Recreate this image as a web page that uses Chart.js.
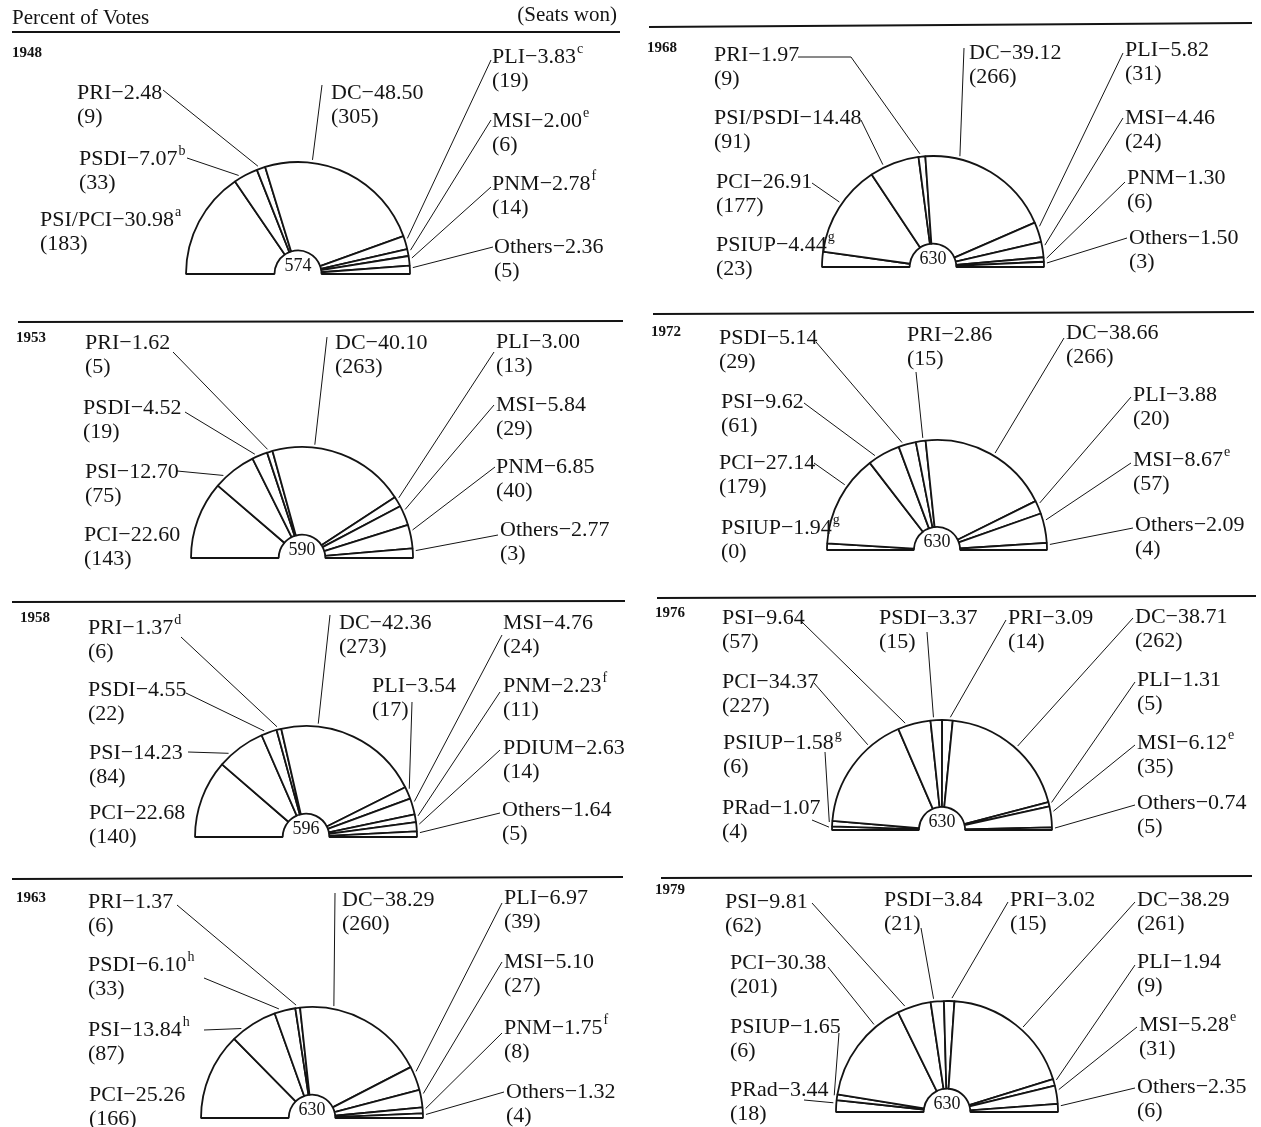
<!DOCTYPE html>
<html><head><meta charset="utf-8">
<script src="https://cdn.jsdelivr.net/npm/chart.js@4"></script>
<style>
html,body{margin:0;padding:0;background:#fff;}
#wrap{position:relative;width:1261px;height:1127px;overflow:hidden;background:#fff;}
#wrap canvas{position:absolute;left:0;top:0;}
</style></head><body><div id="wrap"></div>
<script>
// ---------------- DATA (percent of votes = slice size, seats won = label) ----------------
const years = ['1948','1953','1958','1963','1968','1972','1976','1979'];
const totalSeats = [574, 590, 596, 630, 630, 630, 630, 630];

const parties1948 = ['PSI/PCI','PSDI','PRI','DC','PLI','MSI','PNM','Others'];
const votes1948   = [30.98, 7.07, 2.48, 48.50, 3.83, 2.00, 2.78, 2.36];
const seats1948   = [183, 33, 9, 305, 19, 6, 14, 5];
const notes1948   = ['a','b','','','c','e','f',''];

const parties1953 = ['PCI','PSI','PSDI','PRI','DC','PLI','MSI','PNM','Others'];
const votes1953   = [22.60, 12.70, 4.52, 1.62, 40.10, 3.00, 5.84, 6.85, 2.77];
const seats1953   = [143, 75, 19, 5, 263, 13, 29, 40, 3];
const notes1953   = ['','','','','','','','',''];

const parties1958 = ['PCI','PSI','PSDI','PRI','DC','PLI','MSI','PNM','PDIUM','Others'];
const votes1958   = [22.68, 14.23, 4.55, 1.37, 42.36, 3.54, 4.76, 2.23, 2.63, 1.64];
const seats1958   = [140, 84, 22, 6, 273, 17, 24, 11, 14, 5];
const notes1958   = ['','','','d','','','','f','',''];

const parties1963 = ['PCI','PSI','PSDI','PRI','DC','PLI','MSI','PNM','Others'];
const votes1963   = [25.26, 13.84, 6.10, 1.37, 38.29, 6.97, 5.10, 1.75, 1.32];
const seats1963   = [166, 87, 33, 6, 260, 39, 27, 8, 4];
const notes1963   = ['','h','h','','','','','f',''];

const parties1968 = ['PSIUP','PCI','PSI/PSDI','PRI','DC','PLI','MSI','PNM','Others'];
const votes1968   = [4.44, 26.91, 14.48, 1.97, 39.12, 5.82, 4.46, 1.30, 1.50];
const seats1968   = [23, 177, 91, 9, 266, 31, 24, 6, 3];
const notes1968   = ['g','','','','','','','',''];

const parties1972 = ['PSIUP','PCI','PSI','PSDI','PRI','DC','PLI','MSI','Others'];
const votes1972   = [1.94, 27.14, 9.62, 5.14, 2.86, 38.66, 3.88, 8.67, 2.09];
const seats1972   = [0, 179, 61, 29, 15, 266, 20, 57, 4];
const notes1972   = ['g','','','','','','','e',''];

const parties1976 = ['PRad','PSIUP','PCI','PSI','PSDI','PRI','DC','PLI','MSI','Others'];
const votes1976   = [1.07, 1.58, 34.37, 9.64, 3.37, 3.09, 38.71, 1.31, 6.12, 0.74];
const seats1976   = [4, 6, 227, 57, 15, 14, 262, 5, 35, 5];
const notes1976   = ['','g','','','','','','','e',''];

const parties1979 = ['PRad','PSIUP','PCI','PSI','PSDI','PRI','DC','PLI','MSI','Others'];
const votes1979   = [3.44, 1.65, 30.38, 9.81, 3.84, 3.02, 38.29, 1.94, 5.28, 2.35];
const seats1979   = [18, 6, 201, 62, 21, 15, 261, 9, 31, 6];
const notes1979   = ['','','','','','','','','e',''];

// ---------------- LAYOUT (positions of panels, label text and leader-line start points) ----------------
// labels: [textX, textY, [leader line start point(s)] or null]
const layouts = [
  {cx:298, by:274, r:112, year:[12,53], rule:[12,32,620,32], labels:[
    [40,220,null],[79,159,[[187,158]]],[77,93,[[163,90]]],[331,93,[[322,85]]],
    [492,57,[[491,60]]],[492,121,[[491,120]]],[492,184,[[491,187]]],[494,247,[[493,247]]]]},
  {cx:302, by:558, r:111, year:[16,338], rule:[18,322,623,321], labels:[
    [84,535,null],[85,472,[[177,471]]],[83,408,[[185,412]]],[85,343,[[173,352]]],[335,343,[[327,337]]],
    [496,342,[[494,352]]],[496,405,[[494,405]]],[496,467,[[495,467]]],[500,530,[[498,535]]]]},
  {cx:306, by:837, r:111, year:[20,618], rule:[12,602,625,601], labels:[
    [89,813,null],[89,753,[[188,752]]],[88,690,[[186,693]]],[88,628,[[181,637]]],[339,623,[[330,615]]],
    [372,686,[[412,702]]],[503,623,[[502,635]]],[503,686,[[500,692]]],[503,748,[[500,750]]],[502,810,[[500,813]]]]},
  {cx:312, by:1118, r:111, year:[16,898], rule:[12,879,623,877], labels:[
    [89,1095,null],[88,1030,[[204,1030]]],[88,965,[[204,978]]],[88,902,[[177,905]]],[342,900,[[335,893]]],
    [504,898,[[502,903]]],[504,962,[[502,962]]],[504,1028,[[502,1033]]],[506,1092,[[504,1092]]]]},
  {cx:933, by:267, r:111, year:[647,48], rule:[649,27,1252,23], labels:[
    [716,245,null],[716,182,[[812,183]]],[714,118,[[861,120]]],[714,55,[[798,57],[851,57]]],[969,53,[[964,48]]],
    [1125,50,[[1123,53]]],[1125,118,[[1123,118]]],[1127,178,[[1125,182]]],[1129,238,[[1127,238]]]]},
  {cx:937, by:550, r:110, year:[651,332], rule:[653,314,1254,312], labels:[
    [721,528,null],[719,463,[[814,463]]],[721,402,[[804,403]]],[719,338,[[816,342]]],[907,335,[[916,372]]],
    [1066,333,[[1064,338]]],[1133,395,[[1131,397]]],[1133,460,[[1131,463]]],[1135,525,[[1133,528]]]]},
  {cx:942, by:830, r:110, year:[655,613], rule:[657,598,1256,596], labels:[
    [722,808,[[812,820]]],[723,743,[[825,752]]],[722,682,[[814,683]]],[722,618,[[802,622]]],[879,618,[[927,632]]],
    [1008,618,[[1006,620]]],[1135,617,[[1133,618]]],[1137,680,[[1135,682]]],[1137,743,[[1135,745]]],[1137,803,[[1135,805]]]]},
  {cx:947, by:1112, r:111, year:[655,890], rule:[661,878,1252,876], labels:[
    [730,1090,[[804,1100]]],[730,1027,[[839,1033]]],[730,963,[[828,967]]],[725,902,[[812,903]]],[884,900,[[921,928]]],
    [1010,900,[[1008,902]]],[1137,900,[[1135,902]]],[1137,962,[[1135,965]]],[1139,1025,[[1137,1027]]],[1137,1087,[[1135,1088]]]]}
];

const panels = [
  {parties:parties1948, votes:votes1948, seats:seats1948, notes:notes1948},
  {parties:parties1953, votes:votes1953, seats:seats1953, notes:notes1953},
  {parties:parties1958, votes:votes1958, seats:seats1958, notes:notes1958},
  {parties:parties1963, votes:votes1963, seats:seats1963, notes:notes1963},
  {parties:parties1968, votes:votes1968, seats:seats1968, notes:notes1968},
  {parties:parties1972, votes:votes1972, seats:seats1972, notes:notes1972},
  {parties:parties1976, votes:votes1976, seats:seats1976, notes:notes1976},
  {parties:parties1979, votes:votes1979, seats:seats1979, notes:notes1979}
];

const W = 1261, H = 1127;
const FONT = '"Liberation Serif", "Times New Roman", serif';
const INK = '#141414';

function makePlugin(k){
  const p = panels[k], L = layouts[k];
  return {
    id:'labels'+k,
    afterDraw(chart){
      const ctx = chart.ctx;
      const arcs = chart.getDatasetMeta(0).data;
      ctx.save();
      ctx.fillStyle = INK; ctx.strokeStyle = INK;
      ctx.textBaseline = 'middle';
      if (k === 0){
        ctx.font = '21px ' + FONT; ctx.textAlign = 'left';
        ctx.fillText('Percent of Votes', 12, 18);
        ctx.textAlign = 'right';
        ctx.fillText('(Seats won)', 617, 15);
      }
      // rule above panel
      ctx.lineWidth = 1.8;
      ctx.beginPath(); ctx.moveTo(L.rule[0], L.rule[1]); ctx.lineTo(L.rule[2], L.rule[3]); ctx.stroke();
      // year
      ctx.font = 'bold 15px ' + FONT; ctx.textAlign = 'left';
      ctx.fillText(years[k], L.year[0], L.year[1]);
      // total seats in the hub
      const a0 = arcs[0];
      ctx.font = '18px ' + FONT; ctx.textAlign = 'center';
      ctx.fillText(String(totalSeats[k]), a0.x, a0.y - 8);
      // labels and leader lines
      p.parties.forEach((name, i) => {
        const lab = L.labels[i];
        const tx = lab[0], ty = lab[1];
        const txt = name + '\u2212' + p.votes[i].toFixed(2);
        ctx.font = '22px ' + FONT; ctx.textAlign = 'left';
        ctx.fillText(txt, tx, ty);
        if (p.notes[i]){
          const w = ctx.measureText(txt).width;
          ctx.font = '14px ' + FONT;
          ctx.fillText(p.notes[i], tx + w + 1, ty - 8);
          ctx.font = '22px ' + FONT;
        }
        ctx.fillText('(' + p.seats[i] + ')', tx, ty + 24);
        const pts = lab[2];
        if (pts){
          const arc = arcs[i];
          const s = pts[pts.length - 1];
          let phi = Math.atan2(s[1] - arc.y, s[0] - arc.x);
          const span = arc.endAngle - arc.startAngle;
          const inset = span * 0.25;
          phi = Math.min(Math.max(phi, arc.startAngle + inset), arc.endAngle - inset);
          const R = arc.outerRadius + 3;
          const ex = arc.x + R * Math.cos(phi), ey = arc.y + R * Math.sin(phi);
          ctx.lineWidth = 1;
          ctx.beginPath();
          ctx.moveTo(pts[0][0], pts[0][1]);
          for (let j = 1; j < pts.length; j++) ctx.lineTo(pts[j][0], pts[j][1]);
          ctx.lineTo(ex, ey);
          ctx.stroke();
        }
      });
      ctx.restore();
    }
  };
}

const wrap = document.getElementById('wrap');
panels.forEach((p, k) => {
  const L = layouts[k];
  const cv = document.createElement('canvas');
  cv.width = W; cv.height = H;
  cv.style.width = W + 'px'; cv.style.height = H + 'px';
  wrap.appendChild(cv);
  new Chart(cv, {
    type:'doughnut',
    data:{
      labels:p.parties,
      datasets:[{data:p.votes, backgroundColor:'#ffffff', borderColor:INK, borderWidth:1.8, borderAlign:'center'}]
    },
    options:{
      responsive:false, animation:false, events:[],
      rotation:-90, circumference:180, cutout:'21%', radius:L.r,
      layout:{padding:{left:L.cx - L.r, right:W - L.cx - L.r, top:L.by - L.r, bottom:H - L.by}},
      plugins:{legend:{display:false}, tooltip:{enabled:false}, title:{display:false}}
    },
    plugins:[makePlugin(k)]
  });
});
</script></body></html>
